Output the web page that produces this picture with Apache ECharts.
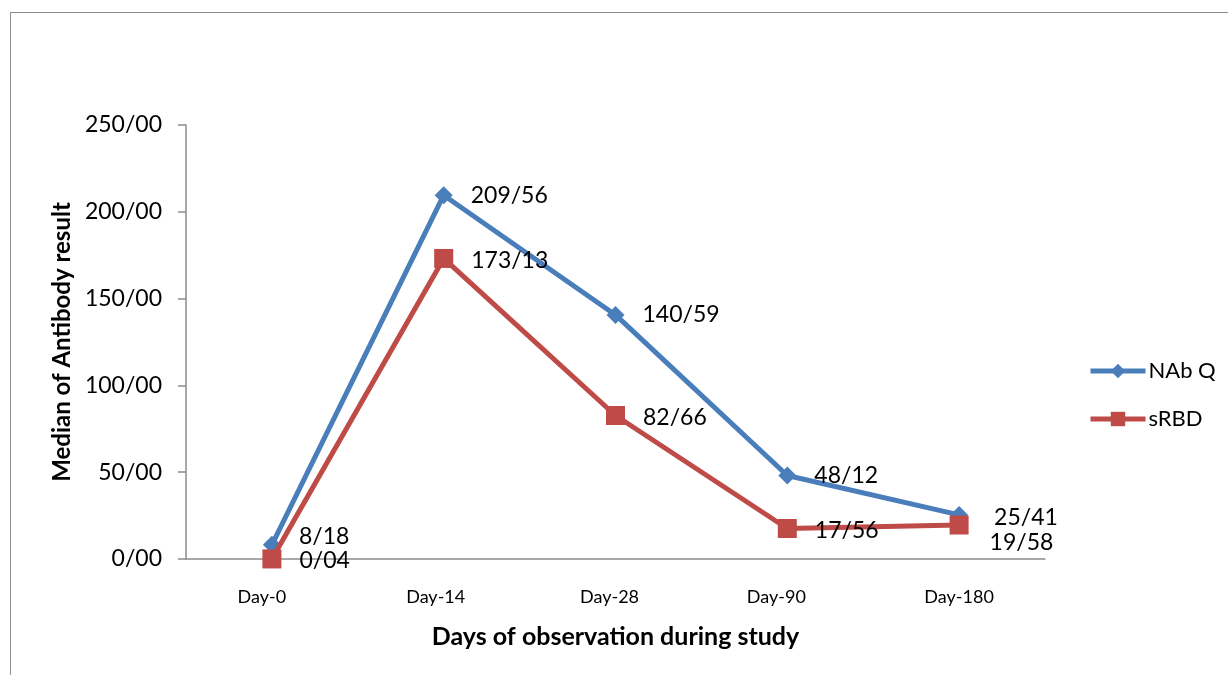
<!DOCTYPE html>
<html>
<head>
<meta charset="utf-8">
<script src="https://cdn.jsdelivr.net/npm/echarts@6/dist/echarts.min.js"></script>
<style>
html,body{margin:0;padding:0;background:#fff;overflow:hidden;}
#frame{position:absolute;left:10px;top:12px;width:1400px;height:800px;border:1.5px solid #8c8c8c;box-sizing:border-box;}
#chart{position:absolute;left:0;top:0;width:1228px;height:675px;}
</style>
</head>
<body>
<div id="frame"></div>
<div id="chart"></div>
<script>
const categories = ['Day-0', 'Day-14', 'Day-28', 'Day-90', 'Day-180'];
const nabQ = [8.18, 209.56, 140.59, 48.12, 25.41];
const sRBD = [0.04, 173.13, 82.66, 17.56, 19.58];
const yTicks = [0, 50, 100, 150, 200, 250];

const fmt = v => Number(v).toFixed(2).replace('.', '/');
const FONT = 'Lato, "Open Sans", sans-serif';
const xShift = [20, 16, 12, 22, 0];

const chart = echarts.init(document.getElementById('chart'));
chart.setOption({
  animation: false,
  grid: {left: 186, right: 183, top: 125, bottom: 116},
  legend: {
    orient: 'vertical',
    left: 1083, top: 355,
    itemWidth: 55, itemHeight: 18, itemGap: 26,
    lineStyle: {width: 5},
    textStyle: {fontFamily: FONT, fontSize: 22, color: '#000', padding: [0,0,0,-2]},
    data: ['NAb Q', 'sRBD']
  },
  xAxis: {
    type: 'category',
    data: categories,
    boundaryGap: true,
    name: 'Days of observation during study',
    nameLocation: 'middle',
    nameGap: 65,
    nameTextStyle: {fontFamily: FONT, fontSize: 25, fontWeight: 'bold', color: '#000'},
    axisLine: {lineStyle: {color: '#8c8c8c', width: 1.5}},
    axisTick: {show: false},
    axisLabel: {
      fontFamily: FONT, fontSize: 18, color: '#000', margin: 29,
      formatter: (v, i) => '{s' + i + '|' + v + '}',
      rich: {
        s0: {fontFamily: FONT, fontSize: 18, color: '#000', padding: [0, xShift[0], 0, 0]},
        s1: {fontFamily: FONT, fontSize: 18, color: '#000', padding: [0, xShift[1], 0, 0]},
        s2: {fontFamily: FONT, fontSize: 18, color: '#000', padding: [0, xShift[2], 0, 0]},
        s3: {fontFamily: FONT, fontSize: 18, color: '#000', padding: [0, xShift[3], 0, 0]},
        s4: {fontFamily: FONT, fontSize: 18, color: '#000', padding: [0, xShift[4], 0, 0]}
      }
    }
  },
  yAxis: {
    type: 'value',
    min: yTicks[0], max: yTicks[yTicks.length - 1], interval: 50,
    name: 'Median of Antibody result',
    nameLocation: 'middle',
    nameGap: 112,
    nameTextStyle: {fontFamily: FONT, fontSize: 24, fontWeight: 'bold', color: '#000'},
    axisLine: {show: true, lineStyle: {color: '#8c8c8c', width: 1.5}},
    axisTick: {show: true, length: 8, lineStyle: {color: '#8c8c8c', width: 1.5}},
    splitLine: {show: false},
    axisLabel: {fontFamily: FONT, fontSize: 23, color: '#000', margin: 24, formatter: v => fmt(v)}
  },
  series: [
    {
      name: 'NAb Q', type: 'line', data: nabQ,
      symbol: 'diamond', symbolSize: 18,
      lineStyle: {color: '#4A7EBB', width: 5},
      itemStyle: {color: '#4A7EBB'},
      label: {show: true, position: 'right', distance: 18, fontFamily: FONT, fontSize: 23, color: '#000', formatter: p => fmt(p.value)},
      labelLayout: function (p) {
        if (p.dataIndex === 0) return {dy: -8};
        if (p.dataIndex === 4) return {dy: 3, dx: 8};
        return {};
      },
      z: 3
    },
    {
      name: 'sRBD', type: 'line', data: sRBD,
      symbol: 'rect', symbolSize: 19,
      lineStyle: {color: '#BE4B48', width: 5},
      itemStyle: {color: '#BE4B48'},
      label: {show: true, position: 'right', distance: 18, fontFamily: FONT, fontSize: 23, color: '#000', formatter: p => fmt(p.value)},
      labelLayout: function (p) {
        if (p.dataIndex === 0) return {dy: 2};
        if (p.dataIndex === 4) return {dy: 18, dx: 3};
        return {dy: 2};
      },
      z: 4
    }
  ]
});
</script>
</body>
</html>
